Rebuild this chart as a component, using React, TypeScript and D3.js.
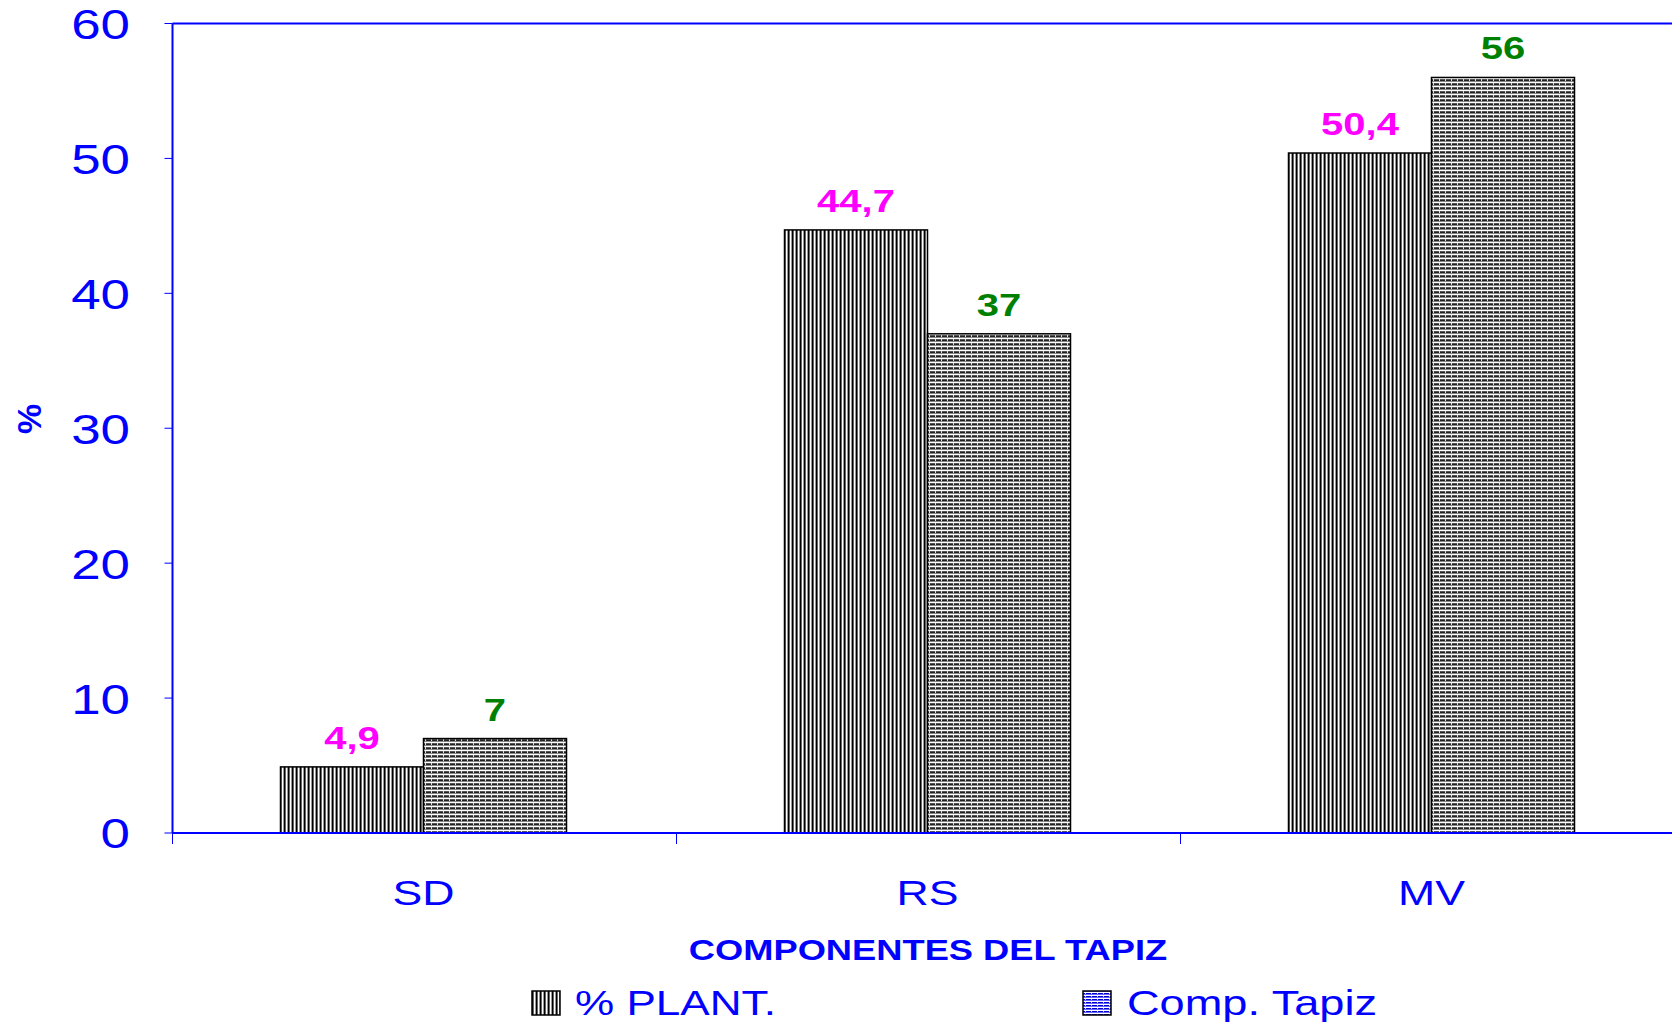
import React from "react";
import * as d3 from "d3";

const categories = ["SD", "RS", "MV"];
const seriesNames = ["% PLANT.", "Comp. Tapiz"];
const plantValues = [4.9, 44.7, 50.4];
const tapizValues = [7, 37, 56];
const plantLabels = ["4,9", "44,7", "50,4"];
const tapizLabels = ["7", "37", "56"];
const yTicks = [0, 10, 20, 30, 40, 50, 60];

const W = 1672;
const H = 1026;
const BLUE = "#0000FF";
const FONT = "'Liberation Sans', Arial, sans-serif";

function SText(props: {
  x: number;
  y: number;
  sx: number;
  anchor?: string;
  size: number;
  bold?: boolean;
  fill: string;
  dy?: string;
  children: React.ReactNode;
}) {
  return (
    <text
      transform={`translate(${props.x},${props.y}) scale(${props.sx},1)`}
      textAnchor={props.anchor || "start"}
      fontSize={props.size}
      fontWeight={props.bold ? "bold" : "normal"}
      fill={props.fill}
      dy={props.dy}
    >
      {props.children}
    </text>
  );
}

export default function App() {
  const left = 172.5;
  const top = 23.5;
  const bottom = 833;
  const bandW = 504;
  const x = d3.scaleBand<string>().domain(categories).range([left, left + bandW * 3]).padding(0);
  const y = d3.scaleLinear().domain([0, 60]).range([bottom, top]);
  const groupW = 286;
  const xs = d3.scaleBand<string>().domain(seriesNames).range([0, groupW]).padding(0);
  const series = [
    { name: seriesNames[0], values: plantValues, labels: plantLabels, fill: "url(#vstripe)", color: "#FF00FF" },
    { name: seriesNames[1], values: tapizValues, labels: tapizLabels, fill: "url(#hstripe)", color: "#008000" },
  ];

  return (
    <svg width={W} height={H} style={{ position: "absolute", left: 0, top: 0, background: "#fff" }} fontFamily={FONT}>
      <defs>
        <pattern id="vstripe" patternUnits="userSpaceOnUse" width="4" height="4">
          <rect x="0" y="0" width="4" height="4" fill="#ffffff" />
          <rect x="0" y="0" width="1" height="4" fill="#000000" />
          <rect x="1" y="0" width="1" height="4" fill="#666666" />
          <rect x="3" y="0" width="1" height="4" fill="#999999" />
        </pattern>
        <pattern id="hstripe" patternUnits="userSpaceOnUse" width="6" height="4">
          <rect x="0" y="0" width="6" height="4" fill="#ffffff" />
          <rect x="0" y="0" width="6" height="1" fill="#222222" />
          <rect x="0" y="1" width="6" height="1" fill="#888888" />
          <rect x="0" y="3" width="6" height="1" fill="#555555" />
          <rect x="5" y="0" width="1" height="1" fill="#dddddd" />
          <rect x="5" y="3" width="1" height="1" fill="#dddddd" />
        </pattern>
        <pattern id="bluestripe" patternUnits="userSpaceOnUse" width="6" height="3">
          <rect x="0" y="0" width="6" height="3" fill="#ffffff" />
          <rect x="0" y="0" width="6" height="1" fill="#0000cc" />
          <rect x="0" y="1" width="6" height="1" fill="#6666ff" />
          <rect x="5" y="0" width="1" height="1" fill="#ccccff" />
        </pattern>
      </defs>

      {/* plot frame lines */}
      <line x1={left} x2={W} y1={top} y2={top} stroke={BLUE} strokeWidth={2} />
      <line x1={left} x2={left} y1={top} y2={bottom} stroke={BLUE} strokeWidth={2} />

      {/* bars */}
      {categories.map((c, i) => {
        const gx = (x(c) as number) + (bandW - groupW) / 2 - 1;
        return series.map((s) => (
          <rect
            key={c + s.name}
            x={gx + (xs(s.name) as number)}
            y={y(s.values[i])}
            width={xs.bandwidth()}
            height={bottom - y(s.values[i])}
            fill={s.fill}
            stroke="#000"
            strokeWidth={1.5}
          />
        ));
      })}

      {/* value labels */}
      {categories.map((c, i) => {
        const gx = (x(c) as number) + (bandW - groupW) / 2 - 1;
        return series.map((s) => (
          <SText
            key={"l" + c + s.name}
            x={gx + (xs(s.name) as number) + xs.bandwidth() / 2}
            y={y(s.values[i]) - 18}
            sx={1.25}
            anchor="middle"
            size={32}
            bold
            fill={s.color}
          >
            {s.labels[i]}
          </SText>
        ));
      })}

      {/* x axis */}
      <line x1={left} x2={W} y1={bottom} y2={bottom} stroke={BLUE} strokeWidth={2} />
      {[0, 1, 2].map((i) => (
        <line key={"xt" + i} x1={left + bandW * i} x2={left + bandW * i} y1={bottom} y2={bottom + 11} stroke={BLUE} strokeWidth={1} />
      ))}
      {categories.map((c) => (
        <SText key={"xl" + c} x={(x(c) as number) + bandW / 2 - 1} y={905} sx={1.24} anchor="middle" size={36} fill={BLUE}>
          {c}
        </SText>
      ))}

      {/* y axis ticks */}
      {yTicks.map((t) => (
        <g key={"yt" + t}>
          <line x1={left - 8} x2={left} y1={y(t)} y2={y(t)} stroke={BLUE} strokeWidth={1} />
          <SText x={130} y={y(t)} dy="0.36em" sx={1.23} anchor="end" size={43} fill={BLUE}>
            {t}
          </SText>
        </g>
      ))}

      {/* axis titles */}
      <SText x={928} y={960} sx={1.21} anchor="middle" size={30} bold fill={BLUE}>
        COMPONENTES DEL TAPIZ
      </SText>
      <text transform="translate(41,419) rotate(-90)" textAnchor="middle" fontSize={34} fontWeight="bold" fill={BLUE}>
        %
      </text>

      {/* legend */}
      <rect x={532} y={991} width={28} height={24} fill="url(#vstripe)" stroke="#000" strokeWidth={1.5} />
      <SText x={575} y={1015} sx={1.26} size={35} fill={BLUE}>
        {seriesNames[0]}
      </SText>
      <rect x={1083} y={991} width={28} height={24} fill="url(#bluestripe)" stroke="#000" strokeWidth={1.5} />
      <SText x={1127} y={1015} sx={1.29} size={35} fill={BLUE}>
        {seriesNames[1]}
      </SText>
    </svg>
  );
}
